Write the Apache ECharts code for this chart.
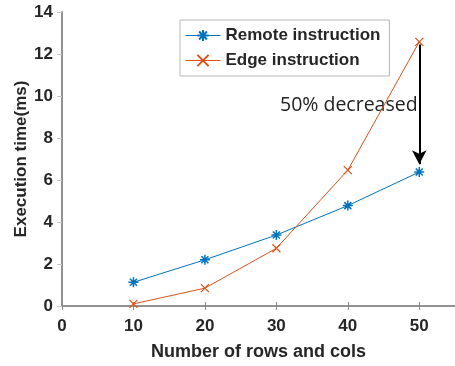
<!DOCTYPE html>
<html>
<head>
<meta charset="utf-8">
<script src="https://cdn.jsdelivr.net/npm/echarts@6/dist/echarts.min.js"></script>
<style>
  html, body { margin: 0; padding: 0; background: #fff; }
  #chart { width: 455px; height: 366px; }
</style>
</head>
<body>
<div id="chart"></div>
<script>
// data
const sizes = [10, 20, 30, 40, 50]
const remoteTimes = [1.13, 2.2, 3.38, 4.78, 6.38]
const edgeTimes = [0.1, 0.85, 2.75, 6.47, 12.58]
const seriesNames = ['Remote instruction', 'Edge instruction']
// arrow from edge to remote at the last point
const arrowX = 50
const arrowFrom = 12.45
const arrowTo = 6.75

const asterisk = 'path://M0,-5L0,5M-5,0L5,0M-3.5,-3.5L3.5,3.5M-3.5,3.5L3.5,-3.5'
const cross = 'path://M-5,-5L5,5M-5,5L5,-5'

const boldFont = (size) => ({
  color: '#262626',
  fontFamily: 'Liberation Sans',
  fontWeight: 'bold',
  fontSize: size
})
const axisGray = '#8a8a8a'

let myChart = echarts.init(document.getElementById('chart'))
myChart.setOption({
  animation: false,
  grid: { left: 62, top: 12, right: -3, bottom: 57 },
  legend: {
    orient: 'vertical',
    left: 180,
    top: 20,
    padding: [7, 9, 7, 5],
    itemWidth: 35,
    itemHeight: 14,
    itemGap: 8,
    borderColor: '#b5b5b5',
    borderWidth: 1,
    backgroundColor: '#fff',
    lineStyle: { width: 1 },
    textStyle: boldFont(17),
    data: seriesNames
  },
  xAxis: [
    {
      type: 'value',
      min: 0,
      max: 55,
      interval: 10,
      name: 'Number of rows and cols',
      nameLocation: 'middle',
      nameGap: 37,
      nameTextStyle: boldFont(18),
      axisLine: { lineStyle: { color: axisGray, width: 1.5 } },
      axisTick: { inside: true, length: 4, lineStyle: { color: axisGray } },
      axisLabel: Object.assign({ margin: 12, showMaxLabel: false }, boldFont(17)),
      splitLine: { show: false }
    },
    {
      type: 'value',
      position: 'top',
      min: 0,
      max: 55,
      interval: 10,
      axisLine: { lineStyle: { color: axisGray, width: 1.5 } },
      axisTick: { inside: true, length: 4, lineStyle: { color: axisGray } },
      axisLabel: { show: false },
      splitLine: { show: false }
    }
  ],
  yAxis: [
    {
      type: 'value',
      min: 0,
      max: 14,
      interval: 2,
      name: 'Execution time(ms)',
      nameLocation: 'middle',
      nameGap: 32,
      nameMoveOverlap: false,
      nameTextStyle: boldFont(17),
      axisLine: { show: true, lineStyle: { color: axisGray, width: 1.5 } },
      axisTick: { show: true, length: 3, lineStyle: { color: axisGray } },
      axisLabel: Object.assign({ margin: 9 }, boldFont(17)),
      splitLine: { show: false }
    },
    {
      type: 'value',
      position: 'right',
      min: 0,
      max: 14,
      interval: 2,
      axisLine: { show: true, lineStyle: { color: axisGray, width: 1.5 } },
      axisTick: { show: true, inside: true, length: 5, lineStyle: { color: '#c8c8c8' } },
      axisLabel: { show: false },
      splitLine: { show: false }
    }
  ],
  series: [
    {
      name: seriesNames[0],
      type: 'line',
      data: sizes.map((s, i) => [s, remoteTimes[i]]),
      symbol: asterisk,
      symbolSize: 10,
      lineStyle: { color: '#0072BD', width: 1 },
      itemStyle: { color: 'rgba(0,0,0,0)', borderColor: '#0072BD', borderWidth: 1.5 }
    },
    {
      name: seriesNames[1],
      type: 'line',
      data: sizes.map((s, i) => [s, edgeTimes[i]]),
      symbol: cross,
      symbolSize: 8,
      lineStyle: { color: '#D95319', width: 1 },
      itemStyle: { color: 'rgba(0,0,0,0)', borderColor: '#D95319', borderWidth: 1.2 },
      markLine: {
        silent: true,
        symbol: ['none', 'arrow'],
        symbolSize: [11, 14],
        label: { show: false },
        lineStyle: { color: '#000', width: 2, type: 'solid' },
        data: [[{ coord: [arrowX, arrowFrom] }, { coord: [arrowX, arrowTo] }]]
      }
    }
  ],
  graphic: [
    {
      type: 'text',
      left: 280,
      top: 95,
      style: {
        text: '50% decreased',
        fill: '#222',
        fontFamily: 'Open Sans',
        fontSize: 19.5
      }
    }
  ]
})
</script>
</body>
</html>
